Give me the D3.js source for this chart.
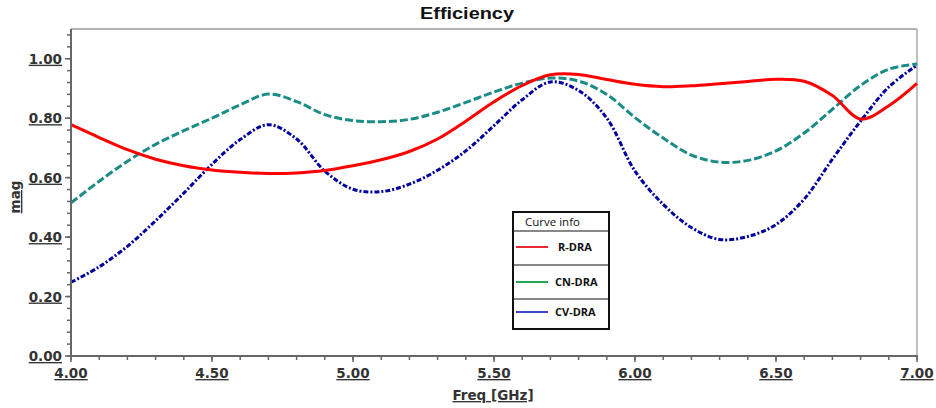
<!DOCTYPE html>
<html><head><meta charset="utf-8">
<script src="https://cdn.jsdelivr.net/npm/d3@7/dist/d3.min.js"></script>
<style>body{margin:0;background:#fff}svg{display:block}</style>
</head><body>
<svg id="c" width="936" height="408"></svg>
<script>
const freq = [4.0,4.1,4.2,4.3,4.4,4.5,4.6,4.7,4.8,4.9,5.0,5.1,5.2,5.3,5.4,5.5,5.6,5.7,5.8,5.9,6.0,6.1,6.2,6.3,6.4,6.5,6.6,6.7,6.8,6.9,7.0];
const rDRA = [0.778,0.735,0.694,0.662,0.640,0.626,0.618,0.614,0.616,0.624,0.640,0.660,0.688,0.730,0.790,0.855,0.910,0.946,0.947,0.930,0.914,0.906,0.909,0.916,0.923,0.931,0.924,0.876,0.797,0.842,0.917];
const cnDRA = [0.515,0.588,0.655,0.712,0.758,0.800,0.845,0.881,0.856,0.812,0.792,0.788,0.796,0.820,0.853,0.888,0.918,0.935,0.925,0.880,0.802,0.733,0.676,0.652,0.658,0.690,0.750,0.830,0.910,0.965,0.982];
const cvDRA = [0.248,0.300,0.369,0.455,0.548,0.645,0.728,0.778,0.730,0.622,0.561,0.553,0.578,0.625,0.690,0.775,0.862,0.922,0.893,0.800,0.622,0.510,0.432,0.392,0.402,0.442,0.528,0.662,0.790,0.905,0.978];
const seriesNames = ["R-DRA","CN-DRA","CV-DRA"];
const xTicks = [4.0,4.5,5.0,5.5,6.0,6.5,7.0];
const yTicks = [0.0,0.2,0.4,0.6,0.8,1.0];

const svg = d3.select("#c");
const L=71, R=917, T=29, B=356;
const x = d3.scaleLinear().domain([4,7]).range([L,R]);
const y = d3.scaleLinear().domain([0,1.1]).range([B,T]);

// frame top/right
svg.append("line").attr("x1",L).attr("x2",R).attr("y1",T).attr("y2",T).attr("stroke","#999").attr("stroke-width",1.5);
svg.append("line").attr("x1",R).attr("x2",R).attr("y1",T).attr("y2",B).attr("stroke","#aaa").attr("stroke-width",1.5);

const series = [
  {name:seriesNames[0], vals:rDRA, color:"#ff0000", dash:null},
  {name:seriesNames[1], vals:cnDRA, color:"#1a8c86", dash:"8,3"},
  {name:seriesNames[2], vals:cvDRA, color:"#0000a0", dash:"5,2,2,2"}
];
const line = d3.line().x((d,i)=>x(freq[i])).y(d=>y(d)).curve(d3.curveCatmullRom.alpha(0.5));
const g = svg.append("g");
series.slice().reverse().forEach(s=>{
  g.append("path").attr("d",line(s.vals)).attr("fill","none").attr("stroke",s.color)
   .attr("stroke-width",3).attr("stroke-dasharray",s.dash);
});

// axes
const axisColor="#666";
const xMinor = d3.range(4,7.0001,0.1);
const yMinor = d3.range(0,1.1001,0.04);
svg.append("g").selectAll("line").data(xMinor).join("line")
  .attr("x1",d=>x(d)).attr("x2",d=>x(d)).attr("y1",B).attr("y2",B+4).attr("stroke",axisColor).attr("stroke-width",1.5);
svg.append("g").selectAll("line").data(xTicks).join("line")
  .attr("x1",d=>x(d)).attr("x2",d=>x(d)).attr("y1",B).attr("y2",B+6).attr("stroke",axisColor).attr("stroke-width",1.5);
svg.append("g").selectAll("line").data(yMinor).join("line")
  .attr("x1",L-4).attr("x2",L).attr("y1",d=>y(d)).attr("y2",d=>y(d)).attr("stroke",axisColor).attr("stroke-width",1.5);
svg.append("g").selectAll("line").data(yTicks).join("line")
  .attr("x1",L-6).attr("x2",L).attr("y1",d=>y(d)).attr("y2",d=>y(d)).attr("stroke",axisColor).attr("stroke-width",1.5);
svg.append("line").attr("x1",L).attr("x2",L).attr("y1",T).attr("y2",B+1).attr("stroke",axisColor).attr("stroke-width",2);
svg.append("line").attr("x1",L-1).attr("x2",R+1).attr("y1",B).attr("y2",B).attr("stroke",axisColor).attr("stroke-width",2);

const fmt = d3.format(".2f");
const lab = {"font-family":"'DejaVu Sans', sans-serif","font-weight":"bold","font-size":"13.5px","fill":"#333","text-decoration":"underline"};
function st(sel,o){for(const k in o) sel.style(k,o[k]); return sel;}
st(svg.append("g").selectAll("text").data(xTicks).join("text")
  .attr("x",d=>x(d)).attr("y",B+22).attr("text-anchor","middle").text(d=>fmt(d)),lab);
st(svg.append("g").selectAll("text").data(yTicks).join("text")
  .attr("x",L-9).attr("y",d=>y(d)+5).attr("text-anchor","end").text(d=>fmt(d)),lab);

st(svg.append("text").attr("x",493).attr("y",400).attr("text-anchor","middle").text("Freq [GHz]"),lab);
st(svg.append("text").attr("transform","translate(20,197) rotate(-90)").attr("text-anchor","middle").text("mag"),lab);

svg.append("text").attr("x",467).attr("y",19).attr("text-anchor","middle")
  .attr("textLength",94).attr("lengthAdjust","spacingAndGlyphs")
  .style("font-family","'Liberation Sans', Arial, sans-serif").style("font-weight","bold").style("font-size","17px").style("fill","#111")
  .text("Efficiency");

// legend
const lg = svg.append("g");
const lx=513, ly=212, lw=96, lh=117;
lg.append("rect").attr("x",lx).attr("y",ly).attr("width",lw).attr("height",lh).attr("fill","#fff").attr("stroke","#111").attr("stroke-width",2);
lg.append("text").attr("x",lx+12).attr("y",ly+14).style("font-family","'Open Sans', sans-serif").style("font-size","11.5px").style("fill","#111").text("Curve info");
const seps=[231,265,299];
lg.selectAll("line.sep").data(seps).join("line").attr("class","sep")
  .attr("x1",lx+1).attr("x2",lx+lw-1).attr("y1",d=>d).attr("y2",d=>d).attr("stroke","#888").attr("stroke-width",2);
const legColors=["#e8282e","#22a855","#3848c8"];
const rowY=[247,282,312];
seriesNames.forEach((n,i)=>{
  lg.append("line").attr("x1",lx+3).attr("x2",lx+35).attr("y1",rowY[i]).attr("y2",rowY[i]).attr("stroke",legColors[i]).attr("stroke-width",2);
  lg.append("text").attr("x",lx+(i==0?45:42)).attr("y",rowY[i]+4).style("font-family","'Open Sans', sans-serif").style("font-weight","bold").style("font-size","11px").style("fill","#111").text(n);
});
</script>
</body></html>
